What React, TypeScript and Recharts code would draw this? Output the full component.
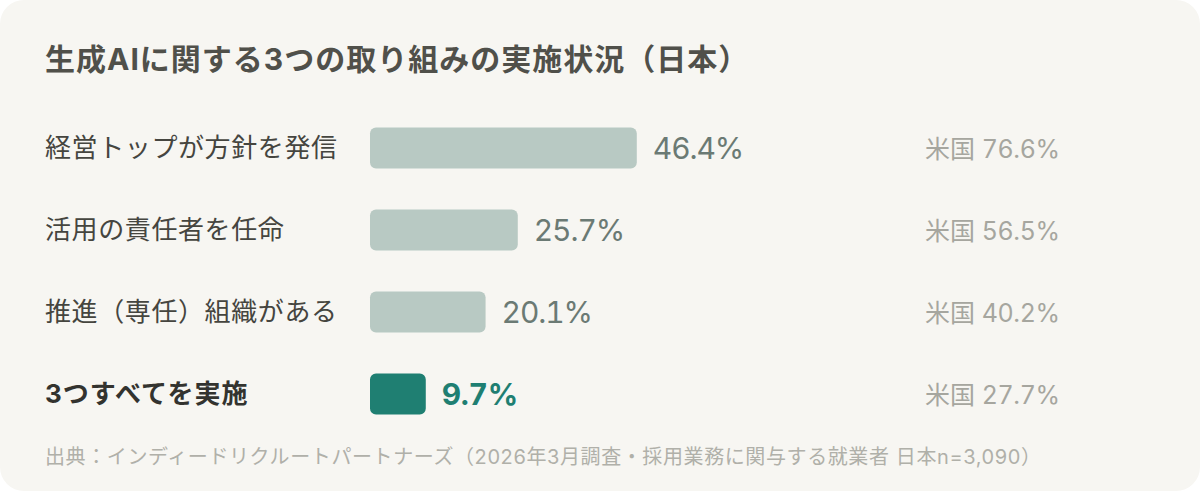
import React from "react";
import { BarChart, Bar, XAxis, YAxis, Cell, LabelList } from "recharts";

const categories = ["経営トップが方針を発信", "活用の責任者を任命", "推進（専任）組織がある", "3つすべてを実施"];
const japanValues = [46.4, 25.7, 20.1, 9.7];
const usValues = [76.6, 56.5, 40.2, 27.7];
const TITLE = "生成AIに関する3つの取り組みの実施状況（日本）";
const SOURCE = "出典：インディードリクルートパートナーズ（2026年3月調査・採用業務に関与する就業者 日本n=3,090）";

const FONT = '"Inter", "Noto Sans CJK JP", sans-serif';
const HIGHLIGHT = 3;

const chartData = categories.map((name, i) => ({
  name,
  japan: japanValues[i],
  us: usValues[i],
}));

// Left label plus the US comparison, both keyed off the row
function RowTick({ x, y, payload, index }: any) {
  const i = index ?? payload.index;
  const bold = i === HIGHLIGHT;
  return (
    <g>
      <text x={45} y={y} dy={9} fontSize={26} letterSpacing={bold ? 1 : 0.6} fontWeight={bold ? 700 : 400} fill={bold ? "#33332f" : "#45453f"} fontFamily={FONT}>
        {payload.value}
      </text>
      <text x={925} y={y} dy={10} fontSize={25} fill="#a6a69f" fontFamily={FONT} style={{ fontVariantNumeric: "tabular-nums" }}>
        米国 <tspan letterSpacing={-0.4}>{`${usValues[i]}%`}</tspan>
      </text>
    </g>
  );
}

function ValueLabel({ x, y, width, height, value, index }: any) {
  const bold = index === HIGHLIGHT;
  return (
    <text
      x={x + width + 16}
      y={y + height / 2}
      dy={11}
      fontSize={30}
      letterSpacing={bold ? -0.3 : -1.1}
      fontWeight={bold ? 700 : 400}
      fill={bold ? "#1f7f72" : "#6b7a74"}
      fontFamily={FONT}
      style={{ fontVariantNumeric: "tabular-nums" }}
    >
      {`${value}%`}
    </text>
  );
}

export default function App() {
  return (
    <div style={{ position: "absolute", left: 0, top: 0, width: 1200, height: 493, background: "#fff", overflow: "hidden" }}>
      <div style={{ position: "absolute", left: 0, top: 0, width: 1200, height: 491, background: "#f7f6f2", borderRadius: 24 }} />
      <div style={{ position: "absolute", left: 45, top: 41, fontSize: 30, lineHeight: "36px", letterSpacing: 1, fontWeight: 700, color: "#50504a", fontFamily: FONT, whiteSpace: "nowrap" }}>
        {TITLE}
      </div>
      <div style={{ position: "absolute", left: 45, top: 444, fontSize: 20, lineHeight: "26px", letterSpacing: 0.6, color: "#b0b0a9", fontFamily: FONT, whiteSpace: "nowrap" }}>
        {SOURCE}
      </div>
      <div style={{ position: "absolute", left: 0, top: 0 }}>
        <BarChart
          width={1200}
          height={493}
          data={chartData}
          layout="vertical"
          margin={{ top: 106.5, right: 255, bottom: 58.5, left: 0 }}
          style={{ background: "transparent" }}
        >
          <XAxis type="number" domain={[0, 100]} hide />
          <YAxis
            type="category"
            dataKey="name"
            width={370}
            axisLine={false}
            tickLine={false}
            interval={0}
            tick={<RowTick />}
          />
          <Bar dataKey="japan" barSize={41} radius={6} isAnimationActive={false}>
            {chartData.map((_, i) => (
              <Cell key={i} fill={i === HIGHLIGHT ? "#1f7f72" : "#b8c9c3"} />
            ))}
            <LabelList dataKey="japan" content={<ValueLabel />} />
          </Bar>
        </BarChart>
      </div>
    </div>
  );
}
